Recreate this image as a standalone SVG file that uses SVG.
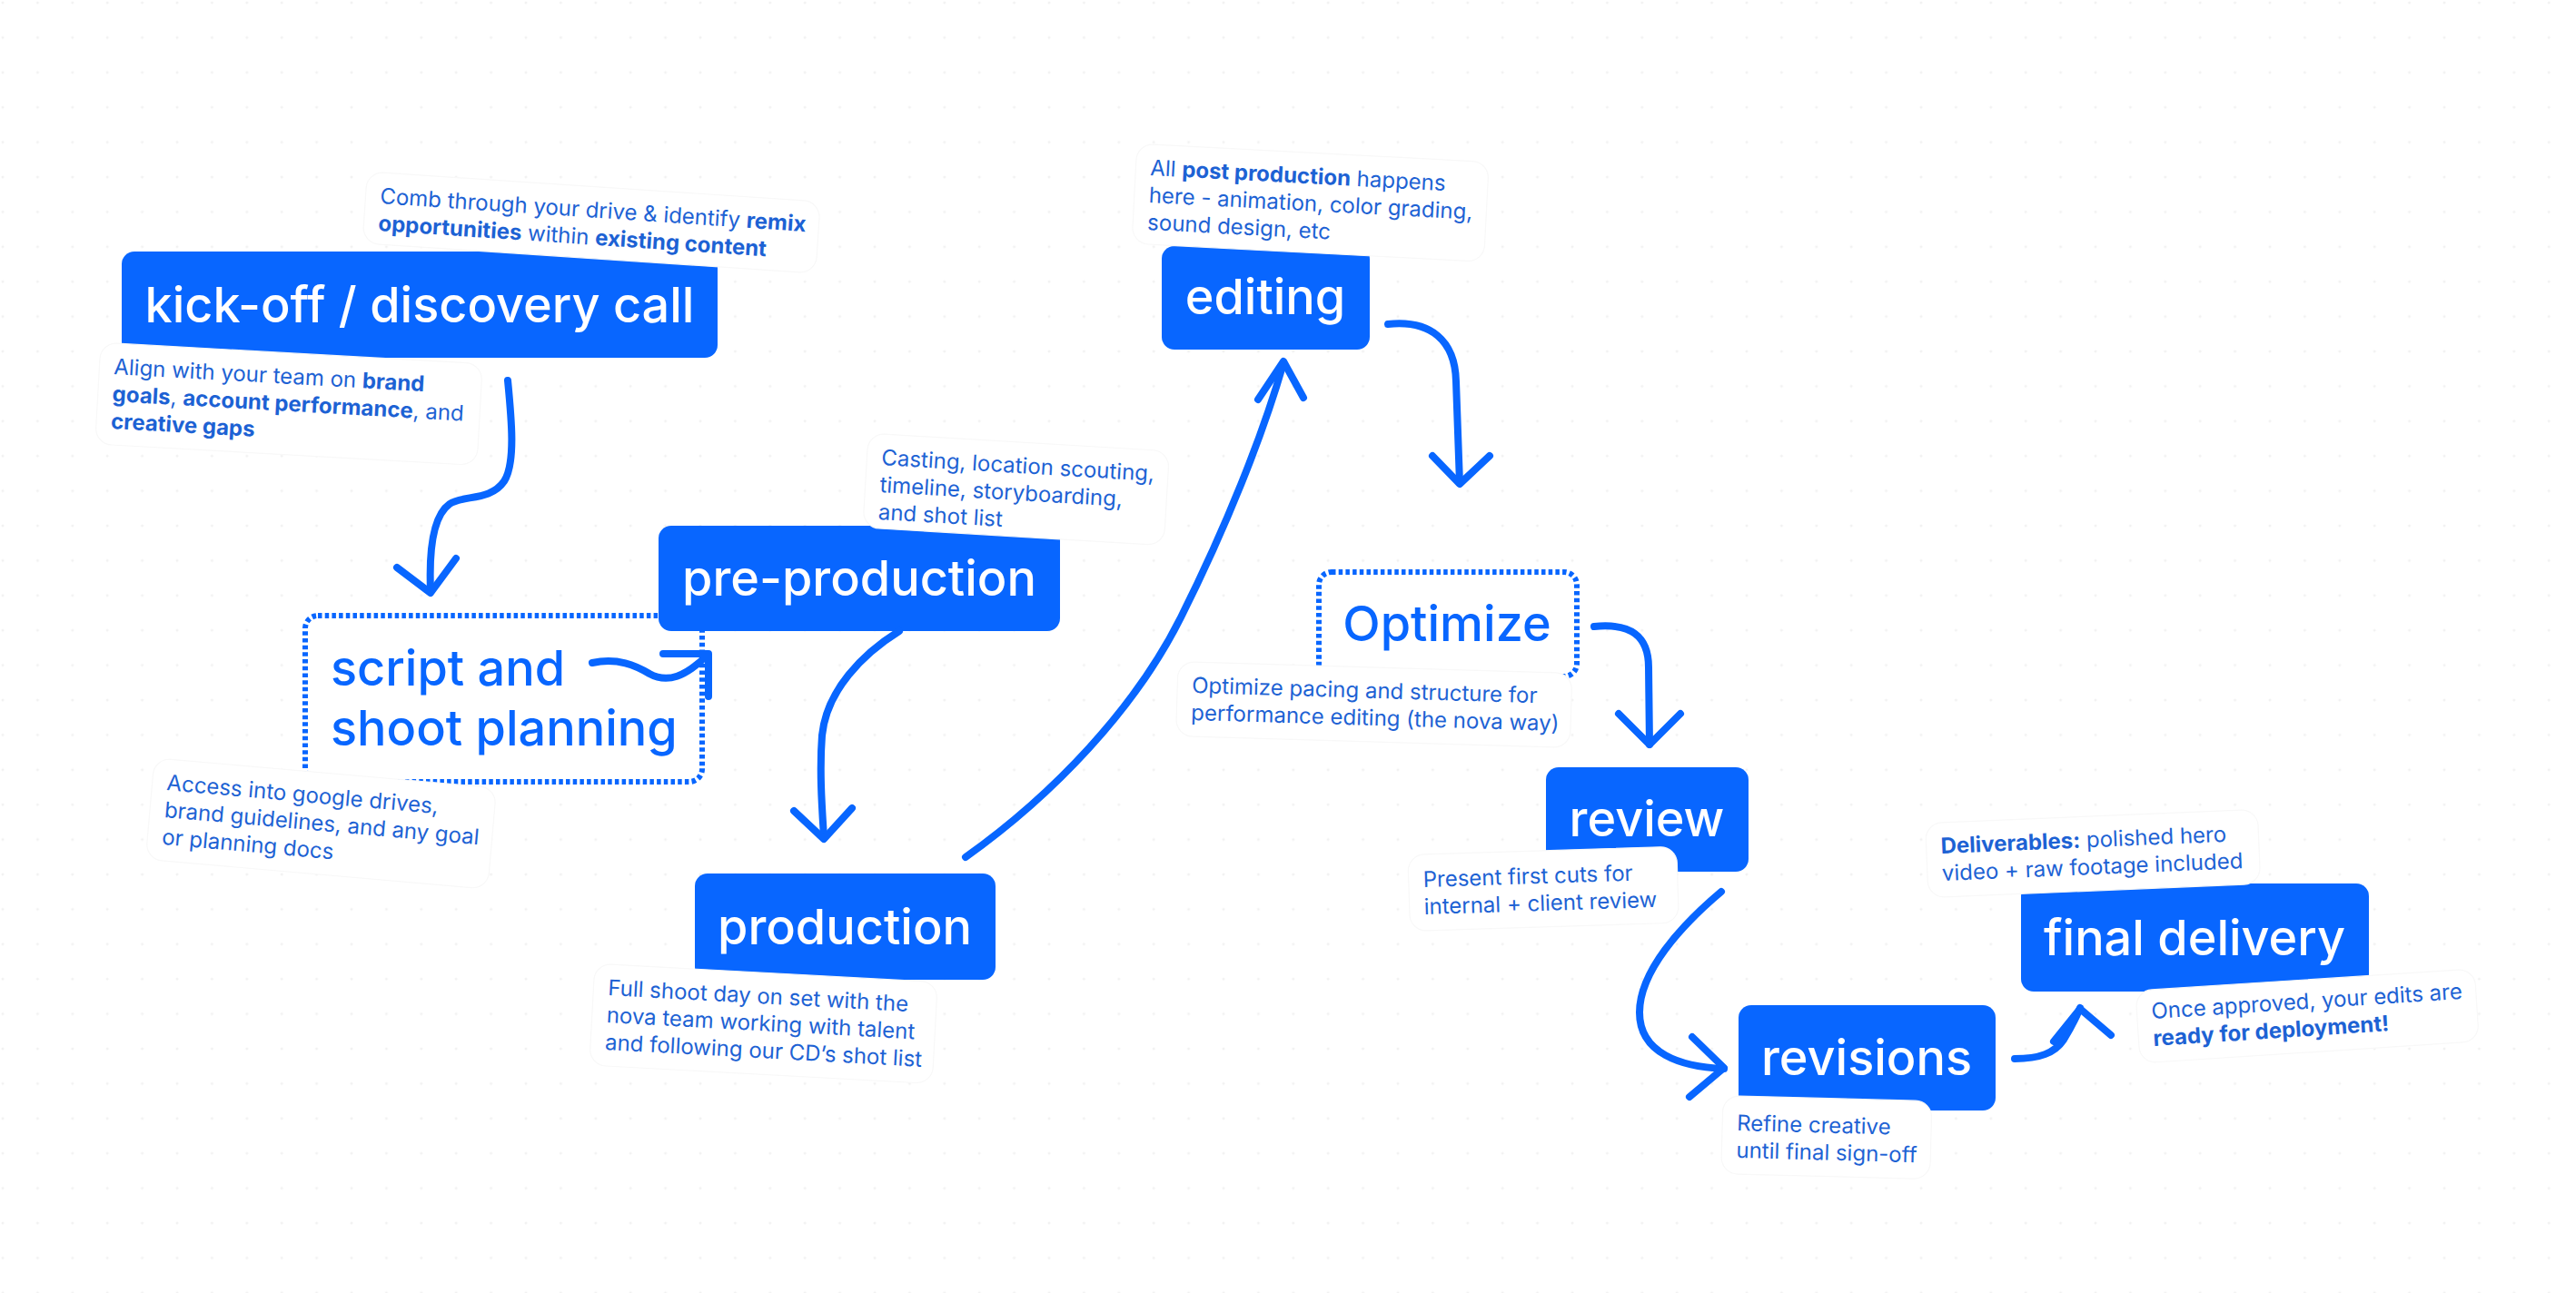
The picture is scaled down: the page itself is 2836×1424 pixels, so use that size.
<svg xmlns="http://www.w3.org/2000/svg" width="2836" height="1424" viewBox="0 0 2836 1424">
<defs>
<pattern id="dots" width="38.4" height="38.4" patternUnits="userSpaceOnUse"><circle cx="3" cy="3" r="1.5" fill="#f2f2f2"/></pattern>
</defs>
<style>
.nbox{fill:#0866ff}
.ntext{font-family:Inter,'Liberation Sans',sans-serif;font-size:54px;font-weight:500;fill:#ffffff;text-anchor:middle}
.dtext{font-family:Inter,'Liberation Sans',sans-serif;font-size:54px;font-weight:500;fill:#0866ff}
.dotted{fill:#ffffff;stroke:#0866ff;stroke-width:6;stroke-dasharray:4.5 3.2}
.lbox{fill:#ffffff;stroke:#f8f8f8;stroke-width:1.2}
.ltext{font-family:Inter,'Liberation Sans',sans-serif;font-size:24px;fill:#1d62d4}
.b{font-weight:700}
.conn path,.conn polyline{fill:none;stroke:#0866ff;stroke-width:8;stroke-linecap:round;stroke-linejoin:round}
</style>
<rect width="2836" height="1424" fill="#ffffff"/>
<rect width="2836" height="1424" fill="url(#dots)"/>

<g id="script">
<rect class="dotted" x="336" y="678" width="437" height="183" rx="14"/>
<text class="dtext" x="364" y="755">script and</text>
<text class="dtext" x="364" y="821">shoot planning</text>
<g transform="translate(183,870) rotate(5)">
<rect class="lbox" x="-16" y="-34" width="378" height="112" rx="18"/>
<text class="ltext" x="0" y="0">Access into google drives,</text>
<text class="ltext" x="0" y="30">brand guidelines, and any goal</text>
<text class="ltext" x="0" y="60">or planning docs</text>
</g>
</g>

<g id="kickoff">
<rect class="nbox" x="134" y="277" width="656" height="117" rx="14"/>
<text class="ntext" x="462" y="355">kick-off / discovery call</text>
<g transform="translate(418,224) rotate(3.8)">
<rect class="lbox" x="-16" y="-34" width="500" height="79" rx="18"/>
<text class="ltext" x="0" y="0">Comb through your drive &amp; identify <tspan class="b">remix</tspan></text>
<text class="ltext" x="0" y="30"><tspan class="b">opportunities</tspan> within <tspan class="b">existing content</tspan></text>
</g>
<g transform="translate(125,412) rotate(3.2)">
<rect class="lbox" x="-16" y="-34" width="421" height="112" rx="18"/>
<text class="ltext" x="0" y="0">Align with your team on <tspan class="b">brand</tspan></text>
<text class="ltext" x="0" y="30"><tspan class="b">goals</tspan>, <tspan class="b">account performance</tspan>, and</text>
<text class="ltext" x="0" y="60"><tspan class="b">creative gaps</tspan></text>
</g>
</g>

<g id="preproduction">
<rect class="nbox" x="725" y="579" width="442" height="116" rx="14"/>
<text class="ntext" x="946" y="656">pre-production</text>
<g transform="translate(970,512) rotate(3.4)">
<rect class="lbox" x="-16" y="-34" width="332" height="104" rx="18"/>
<text class="ltext" x="0" y="0">Casting, location scouting,</text>
<text class="ltext" x="0" y="30">timeline, storyboarding,</text>
<text class="ltext" x="0" y="60">and shot list</text>
</g>
</g>

<g id="production">
<rect class="nbox" x="765" y="962" width="331" height="117" rx="14"/>
<text class="ntext" x="930" y="1040">production</text>
<g transform="translate(669,1096) rotate(3.1)">
<rect class="lbox" x="-16" y="-34" width="378" height="112" rx="18"/>
<text class="ltext" x="0" y="0">Full shoot day on set with the</text>
<text class="ltext" x="0" y="30">nova team working with talent</text>
<text class="ltext" x="0" y="60">and following our CD’s shot list</text>
</g>
</g>

<g id="editing">
<rect class="nbox" x="1279" y="271" width="229" height="114" rx="14"/>
<text class="ntext" x="1393" y="346">editing</text>
<g transform="translate(1266,193) rotate(3)">
<rect class="lbox" x="-16" y="-34" width="388" height="110" rx="18"/>
<text class="ltext" x="0" y="0">All <tspan class="b">post production</tspan> happens</text>
<text class="ltext" x="0" y="30">here - animation, color grading,</text>
<text class="ltext" x="0" y="60">sound design, etc</text>
</g>
</g>

<g id="optimize">
<rect class="dotted" x="1452" y="630" width="284" height="115" rx="14"/>
<text class="dtext" x="1593" y="706" text-anchor="middle">Optimize</text>
<g transform="translate(1312,763) rotate(1.7)">
<rect class="lbox" x="-16" y="-34" width="434" height="82" rx="18"/>
<text class="ltext" x="0" y="0">Optimize pacing and structure for</text>
<text class="ltext" x="0" y="30">performance editing (the nova way)</text>
</g>
</g>

<g id="review">
<rect class="nbox" x="1702" y="845" width="223" height="115" rx="14"/>
<text class="ntext" x="1813" y="921">review</text>
<g transform="translate(1567,977) rotate(-1.8)">
<rect class="lbox" x="-16" y="-36" width="296" height="84" rx="18"/>
<text class="ltext" x="0" y="0">Present first cuts for</text>
<text class="ltext" x="0" y="30">internal + client review</text>
</g>
</g>

<g id="revisions">
<rect class="nbox" x="1914" y="1107" width="283" height="116" rx="14"/>
<text class="ntext" x="2055" y="1184">revisions</text>
<g transform="translate(1912,1245) rotate(1.5)">
<rect class="lbox" x="-16" y="-38" width="230" height="86" rx="18"/>
<text class="ltext" x="0" y="0">Refine creative</text>
<text class="ltext" x="0" y="30">until final sign-off</text>
</g>
</g>

<g id="finaldelivery">
<rect class="nbox" x="2225" y="973" width="383" height="119" rx="14"/>
<text class="ntext" x="2416" y="1052">final delivery</text>
<g transform="translate(2137,940) rotate(-2.4)">
<rect class="lbox" x="-16" y="-34" width="366" height="82" rx="18"/>
<text class="ltext" x="0" y="0"><tspan class="b">Deliverables:</tspan> polished hero</text>
<text class="ltext" x="0" y="30">video + raw footage included</text>
</g>
<g transform="translate(2369,1122) rotate(-3.7)">
<rect class="lbox" x="-16" y="-32" width="374" height="80" rx="18"/>
<text class="ltext" x="0" y="0">Once approved, your edits are</text>
<text class="ltext" x="0" y="30"><tspan class="b">ready for deployment!</tspan></text>
</g>
</g>

<g id="connectors" class="conn">
<path d="M559,419 C563,460 568,510 555,530 C540,552 510,545 495,555 C478,567 472,600 474,650"/>
<polyline points="437,625 474,653 502,615"/>
<path d="M652,730 C680,724 700,733 715,742 C735,753 755,745 778,722"/>
<polyline points="730,720 780,720 780,767"/>
<path d="M990,695 C950,720 910,760 905,810 C902,850 905,890 907,922"/>
<polyline points="874,893 907,924 938,890"/>
<path d="M1063,944 C1160,875 1250,780 1300,680 C1350,580 1390,480 1413,400"/>
<polyline points="1385,440 1413,398 1435,438"/>
<path d="M1528,357 C1575,352 1602,375 1603,420 L1607,532"/>
<polyline points="1577,502 1607,533 1640,502"/>
<path d="M1755,690 C1795,686 1815,700 1815,735 L1816,820"/>
<polyline points="1782,786 1816,820 1850,786"/>
<path d="M1895,982 C1850,1020 1805,1070 1805,1115 C1805,1160 1850,1175 1898,1177"/>
<polyline points="1863,1142 1898,1176 1860,1208"/>
<path d="M2218,1166 C2245,1166 2262,1160 2272,1145 C2280,1132 2286,1120 2290,1110"/>
<polyline points="2261,1147 2290,1111 2324,1140"/>
</g>
</svg>
